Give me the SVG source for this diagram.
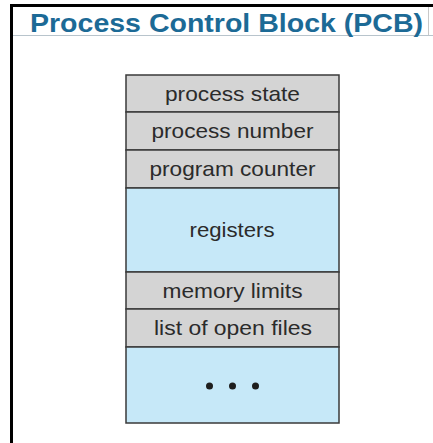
<svg xmlns="http://www.w3.org/2000/svg" width="433" height="443" viewBox="0 0 433 443">
  <style>
    .frame { stroke: #000; fill: none; }
    .title { font-family: "Liberation Sans", Arial, sans-serif; font-weight: bold; font-size: 25px; fill: #1c6a96; }
    .field { stroke: #3a3a3a; stroke-width: 1.5; }
    .gray { fill: #d4d4d4; }
    .blue { fill: #c6e8f8; }
    .label { font-family: "Liberation Sans", Arial, sans-serif; font-size: 21px; fill: #2b2b2b; text-anchor: middle; }
    .dot { fill: #1e1e1e; }
  </style>

  <rect x="0" y="0" width="433" height="443" fill="#fff"/>

  <!-- slide frame and title strip -->
  <g id="frame">
    <line class="frame" x1="11.5" y1="4" x2="11.5" y2="443" stroke-width="3"/>
    <line class="frame" x1="10" y1="5.5" x2="433" y2="5.5" stroke-width="3"/>
    <line x1="13" y1="35.5" x2="433" y2="35.5" stroke="#b8c4cc" stroke-width="1"/>
    <line x1="428.5" y1="7" x2="428.5" y2="35" stroke="#c8c8c8" stroke-width="1"/>
  </g>

  <g id="title">
    <text class="title" x="30" y="32" textLength="393" lengthAdjust="spacingAndGlyphs">Process Control Block (PCB)</text>
  </g>

  <!-- PCB fields, stacked top to bottom -->
  <g id="process-state">
    <rect class="field gray" x="126" y="75" width="213" height="37"/>
    <text class="label" x="232.5" y="101" textLength="135" lengthAdjust="spacingAndGlyphs">process state</text>
  </g>
  <g id="process-number">
    <rect class="field gray" x="126" y="112" width="213" height="38"/>
    <text class="label" x="232.5" y="138" textLength="162" lengthAdjust="spacingAndGlyphs">process number</text>
  </g>
  <g id="program-counter">
    <rect class="field gray" x="126" y="150" width="213" height="38"/>
    <text class="label" x="232.5" y="176" textLength="166" lengthAdjust="spacingAndGlyphs">program counter</text>
  </g>
  <g id="registers">
    <rect class="field blue" x="126" y="188" width="213" height="84"/>
    <text class="label" x="232" y="237" textLength="85" lengthAdjust="spacingAndGlyphs">registers</text>
  </g>
  <g id="memory-limits">
    <rect class="field gray" x="126" y="272" width="213" height="37"/>
    <text class="label" x="232.5" y="298" textLength="140" lengthAdjust="spacingAndGlyphs">memory limits</text>
  </g>
  <g id="open-files">
    <rect class="field gray" x="126" y="309" width="213" height="38"/>
    <text class="label" x="233" y="335" textLength="158" lengthAdjust="spacingAndGlyphs">list of open files</text>
  </g>
  <g id="more">
    <rect class="field blue" x="126" y="347" width="213" height="76"/>
    <circle class="dot" cx="209.5" cy="386" r="3.5"/>
    <circle class="dot" cx="232.5" cy="386" r="3.5"/>
    <circle class="dot" cx="255.5" cy="386" r="3.5"/>
  </g>

  <!-- no connectors in this figure -->
  <g id="connectors"/>
</svg>
